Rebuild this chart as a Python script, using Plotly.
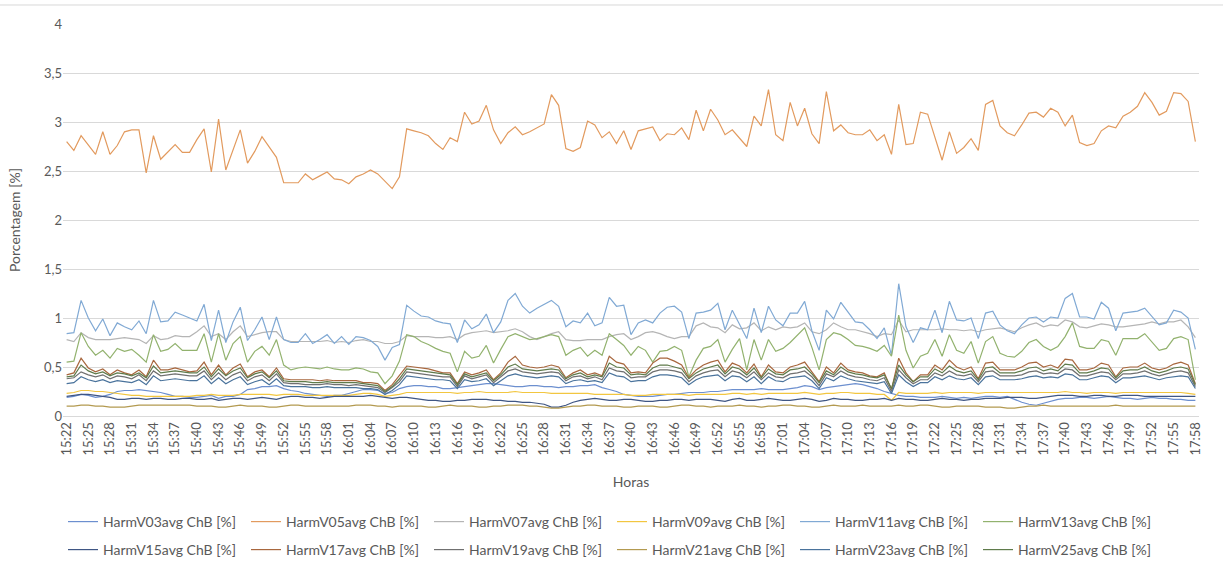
import plotly.graph_objects as go

# Minute-by-minute timestamps from 15:22 to 17:58
START_MIN = 15 * 60 + 22
N_POINTS = 157
times = [f"{(START_MIN + i) // 60}:{(START_MIN + i) % 60:02d}" for i in range(N_POINTS)]
tick_times = times[::3]

y_tickvals = [0, 0.5, 1, 1.5, 2, 2.5, 3, 3.5, 4]
y_ticktext = ["0", "0,5", "1", "1,5", "2", "2,5", "3", "3,5", "4"]

harm_v03 = [
    0.19, 0.20, 0.22, 0.21, 0.19, 0.20, 0.22, 0.25, 0.26, 0.26,
    0.27, 0.26, 0.25, 0.24, 0.22, 0.20, 0.20, 0.19, 0.19, 0.20,
    0.21, 0.18, 0.20, 0.20, 0.22, 0.27, 0.28, 0.30, 0.30, 0.31,
    0.28, 0.26, 0.25, 0.23, 0.22, 0.21, 0.20, 0.21, 0.21, 0.23,
    0.25, 0.27, 0.27, 0.26, 0.23, 0.24, 0.28, 0.30, 0.31, 0.31,
    0.30, 0.30, 0.28, 0.28, 0.29, 0.30, 0.31, 0.32, 0.33, 0.33,
    0.32, 0.31, 0.30, 0.30, 0.31, 0.31, 0.30, 0.30, 0.29, 0.30,
    0.30, 0.31, 0.31, 0.32, 0.29, 0.27, 0.25, 0.22, 0.21, 0.20,
    0.20, 0.20, 0.21, 0.22, 0.22, 0.23, 0.24, 0.24, 0.24, 0.25,
    0.25, 0.26, 0.27, 0.27, 0.27, 0.27, 0.28, 0.27, 0.27, 0.27,
    0.28, 0.29, 0.31, 0.30, 0.27, 0.29, 0.30, 0.31, 0.32, 0.33,
    0.32, 0.30, 0.28, 0.25, 0.23, 0.21, 0.20, 0.20, 0.19, 0.19,
    0.19, 0.20, 0.19, 0.18, 0.19, 0.18, 0.19, 0.20, 0.20, 0.19,
    0.20, 0.17, 0.14, 0.12, 0.11, 0.13, 0.15, 0.17, 0.18, 0.18,
    0.19, 0.19, 0.18, 0.19, 0.20, 0.19, 0.18, 0.18, 0.17, 0.18,
    0.19, 0.18, 0.18, 0.17, 0.17, 0.16, 0.16,
]

harm_v05 = [
    2.80, 2.71, 2.86, 2.77, 2.67, 2.90, 2.67, 2.76, 2.90, 2.92,
    2.92, 2.48, 2.86, 2.62, 2.70, 2.77, 2.69, 2.69, 2.82, 2.93,
    2.49, 3.03, 2.51, 2.72, 2.92, 2.58, 2.70, 2.85, 2.74, 2.64,
    2.38, 2.38, 2.38, 2.47, 2.41, 2.45, 2.49, 2.42, 2.41, 2.37,
    2.44, 2.47, 2.51, 2.47, 2.40, 2.32, 2.44, 2.93, 2.91, 2.89,
    2.86, 2.78, 2.72, 2.84, 2.80, 3.10, 2.98, 3.01, 3.17, 2.92,
    2.78, 2.89, 2.95, 2.87, 2.90, 2.94, 2.98, 3.28, 3.17, 2.73,
    2.70, 2.74, 3.01, 2.97, 2.84, 2.90, 2.78, 2.91, 2.72, 2.91,
    2.93, 2.95, 2.81, 2.88, 2.87, 2.94, 2.82, 3.12, 2.91, 3.13,
    3.02, 2.87, 2.92, 2.84, 2.75, 3.06, 2.96, 3.33, 2.87, 2.81,
    3.20, 2.96, 3.14, 2.88, 2.78, 3.31, 2.91, 2.97, 2.89, 2.87,
    2.87, 2.92, 2.81, 2.87, 2.67, 3.18, 2.77, 2.78, 3.10, 3.08,
    2.84, 2.61, 2.90, 2.68, 2.74, 2.83, 2.71, 3.18, 3.22, 2.96,
    2.89, 2.86, 2.97, 3.09, 3.10, 3.05, 3.14, 3.10, 2.96, 3.07,
    2.79, 2.76, 2.78, 2.91, 2.96, 2.94, 3.06, 3.10, 3.16, 3.30,
    3.20, 3.07, 3.11, 3.30, 3.29, 3.21, 2.80,
]

harm_v07 = [
    0.78, 0.76, 0.85, 0.80, 0.78, 0.78, 0.78, 0.79, 0.80, 0.79,
    0.78, 0.74, 0.82, 0.78, 0.79, 0.82, 0.81, 0.81, 0.86, 0.92,
    0.81, 0.84, 0.78, 0.86, 0.92, 0.81, 0.83, 0.85, 0.86, 0.86,
    0.78, 0.76, 0.76, 0.76, 0.76, 0.76, 0.77, 0.75, 0.76, 0.75,
    0.77, 0.78, 0.76, 0.76, 0.74, 0.74, 0.76, 0.82, 0.81, 0.81,
    0.81, 0.80, 0.80, 0.81, 0.78, 0.83, 0.85, 0.86, 0.87, 0.85,
    0.86, 0.87, 0.89, 0.86, 0.81, 0.78, 0.81, 0.84, 0.86, 0.78,
    0.77, 0.77, 0.78, 0.78, 0.78, 0.81, 0.83, 0.84, 0.78, 0.81,
    0.85, 0.86, 0.84, 0.81, 0.79, 0.81, 0.81, 0.92, 0.95, 0.91,
    0.90, 0.85, 0.93, 0.89, 0.90, 0.95, 0.87, 0.91, 0.88, 0.91,
    0.90, 0.91, 0.95, 0.86, 0.84, 0.88, 0.95, 0.91, 0.88, 0.88,
    0.86, 0.84, 0.81, 0.84, 0.83, 0.98, 0.86, 0.88, 0.88, 0.88,
    0.88, 0.89, 0.88, 0.88, 0.87, 0.88, 0.86, 0.88, 0.89, 0.90,
    0.88, 0.86, 0.90, 0.93, 0.95, 0.91, 0.93, 0.92, 0.98, 0.96,
    0.91, 0.90, 0.92, 0.94, 0.93, 0.91, 0.91, 0.92, 0.93, 0.94,
    0.96, 0.94, 0.96, 0.96, 0.98, 0.91, 0.80,
]

harm_v09 = [
    0.23, 0.24, 0.26, 0.26, 0.25, 0.25, 0.24, 0.23, 0.22, 0.21,
    0.21, 0.20, 0.20, 0.20, 0.20, 0.20, 0.20, 0.20, 0.21, 0.21,
    0.22, 0.21, 0.21, 0.21, 0.22, 0.22, 0.22, 0.22, 0.22, 0.21,
    0.22, 0.22, 0.22, 0.21, 0.21, 0.21, 0.21, 0.21, 0.21, 0.21,
    0.22, 0.23, 0.23, 0.22, 0.20, 0.21, 0.22, 0.24, 0.24, 0.24,
    0.24, 0.24, 0.24, 0.24, 0.23, 0.24, 0.24, 0.25, 0.24, 0.24,
    0.24, 0.24, 0.25, 0.24, 0.24, 0.24, 0.24, 0.23, 0.23, 0.23,
    0.23, 0.23, 0.23, 0.22, 0.22, 0.22, 0.22, 0.22, 0.21, 0.21,
    0.21, 0.22, 0.22, 0.22, 0.22, 0.22, 0.21, 0.22, 0.22, 0.22,
    0.22, 0.22, 0.23, 0.23, 0.22, 0.23, 0.22, 0.23, 0.23, 0.23,
    0.23, 0.23, 0.24, 0.23, 0.22, 0.23, 0.23, 0.24, 0.24, 0.23,
    0.23, 0.23, 0.22, 0.22, 0.16, 0.24, 0.23, 0.23, 0.23, 0.23,
    0.24, 0.23, 0.24, 0.24, 0.24, 0.24, 0.23, 0.24, 0.24, 0.24,
    0.24, 0.24, 0.24, 0.24, 0.24, 0.24, 0.24, 0.24, 0.25, 0.24,
    0.24, 0.23, 0.24, 0.24, 0.24, 0.23, 0.24, 0.24, 0.24, 0.24,
    0.24, 0.24, 0.24, 0.24, 0.24, 0.23, 0.22,
]

harm_v11 = [
    0.84, 0.85, 1.18, 1.00, 0.87, 0.99, 0.82, 0.95, 0.91, 0.88,
    0.97, 0.84, 1.18, 0.96, 0.97, 1.06, 1.03, 1.00, 0.97, 1.14,
    0.77, 1.08, 0.75, 0.96, 1.11, 0.77, 0.88, 1.01, 0.78, 1.01,
    0.78, 0.75, 0.75, 0.84, 0.74, 0.78, 0.83, 0.74, 0.81, 0.73,
    0.81, 0.80, 0.77, 0.71, 0.57, 0.70, 0.73, 1.13, 1.07, 1.02,
    1.01, 0.97, 0.95, 0.94, 0.75, 0.98, 0.89, 0.93, 1.04, 0.85,
    0.96, 1.18, 1.25, 1.12, 1.05, 1.10, 1.14, 1.18, 1.12, 0.91,
    0.97, 0.95, 1.05, 0.92, 0.95, 1.21, 1.12, 1.13, 0.83, 0.95,
    0.98, 0.95, 1.05, 1.11, 1.12, 1.06, 0.79, 1.05, 1.06, 1.08,
    1.15, 0.88, 1.08, 0.93, 0.79, 1.10, 0.85, 1.12, 0.98, 0.92,
    1.05, 1.05, 1.17, 0.87, 0.67, 1.08, 0.99, 1.16, 1.06, 0.96,
    0.95, 0.88, 0.79, 0.90, 0.62, 1.35, 0.91, 0.75, 0.90, 0.88,
    1.08, 0.85, 1.17, 0.98, 0.97, 1.00, 0.79, 1.05, 1.07, 0.93,
    0.87, 0.84, 0.93, 1.00, 1.01, 0.96, 1.01, 1.00, 1.20, 1.25,
    1.01, 1.01, 0.99, 1.16, 1.10, 0.87, 1.05, 1.06, 1.07, 1.10,
    1.01, 0.93, 0.95, 1.08, 1.06, 1.00, 0.68,
]

harm_v13 = [
    0.55, 0.56, 0.85, 0.71, 0.62, 0.67, 0.59, 0.69, 0.66, 0.68,
    0.62, 0.55, 0.83, 0.66, 0.68, 0.74, 0.67, 0.67, 0.67, 0.84,
    0.55, 0.84, 0.57, 0.74, 0.81, 0.55, 0.66, 0.71, 0.62, 0.78,
    0.52, 0.47, 0.49, 0.50, 0.49, 0.48, 0.50, 0.48, 0.47, 0.47,
    0.49, 0.48, 0.45, 0.44, 0.33, 0.41, 0.56, 0.83, 0.81, 0.76,
    0.73, 0.69, 0.66, 0.64, 0.45, 0.66, 0.59, 0.61, 0.72, 0.54,
    0.68, 0.81, 0.84, 0.81, 0.78, 0.79, 0.81, 0.83, 0.81, 0.62,
    0.67, 0.70, 0.61, 0.67, 0.62, 0.84, 0.78, 0.72, 0.62, 0.71,
    0.67, 0.55, 0.66, 0.67, 0.71, 0.67, 0.40, 0.57, 0.69, 0.71,
    0.78, 0.55, 0.68, 0.79, 0.47, 0.78, 0.57, 0.78, 0.66, 0.69,
    0.75, 0.82, 0.90, 0.70, 0.47, 0.78, 0.85, 0.83, 0.78, 0.72,
    0.71, 0.69, 0.66, 0.72, 0.61, 1.03, 0.67, 0.49, 0.61, 0.64,
    0.78, 0.61, 0.83, 0.67, 0.64, 0.76, 0.54, 0.76, 0.81, 0.64,
    0.61, 0.60, 0.66, 0.75, 0.78, 0.71, 0.67, 0.71, 0.81, 0.95,
    0.71, 0.69, 0.69, 0.78, 0.76, 0.62, 0.79, 0.79, 0.79, 0.84,
    0.76, 0.67, 0.69, 0.79, 0.81, 0.78, 0.37,
]

harm_v15 = [
    0.20, 0.21, 0.22, 0.22, 0.21, 0.20, 0.19, 0.17, 0.17, 0.18,
    0.18, 0.17, 0.18, 0.18, 0.17, 0.17, 0.18, 0.18, 0.17, 0.17,
    0.18, 0.16, 0.17, 0.18, 0.18, 0.17, 0.18, 0.19, 0.18, 0.17,
    0.19, 0.20, 0.20, 0.19, 0.19, 0.18, 0.19, 0.20, 0.20, 0.20,
    0.20, 0.20, 0.21, 0.20, 0.19, 0.18, 0.19, 0.19, 0.18, 0.17,
    0.16, 0.16, 0.15, 0.15, 0.16, 0.16, 0.17, 0.17, 0.17, 0.16,
    0.16, 0.15, 0.15, 0.14, 0.14, 0.13, 0.12, 0.09, 0.09, 0.11,
    0.14, 0.16, 0.17, 0.18, 0.17, 0.16, 0.16, 0.17, 0.17, 0.16,
    0.15, 0.15, 0.16, 0.16, 0.17, 0.17, 0.16, 0.17, 0.17, 0.17,
    0.16, 0.15, 0.17, 0.18, 0.16, 0.16, 0.17, 0.18, 0.17, 0.16,
    0.16, 0.17, 0.18, 0.17, 0.15, 0.16, 0.18, 0.17, 0.17, 0.16,
    0.16, 0.17, 0.17, 0.18, 0.16, 0.18, 0.17, 0.17, 0.16, 0.16,
    0.17, 0.18, 0.17, 0.17, 0.16, 0.17, 0.17, 0.18, 0.18, 0.18,
    0.19, 0.19, 0.19, 0.18, 0.18, 0.19, 0.20, 0.21, 0.21, 0.21,
    0.20, 0.20, 0.21, 0.21, 0.20, 0.20, 0.21, 0.21, 0.21, 0.20,
    0.20, 0.20, 0.20, 0.20, 0.20, 0.20, 0.20,
]

harm_v17 = [
    0.42, 0.44, 0.59, 0.49, 0.45, 0.48, 0.42, 0.47, 0.44, 0.42,
    0.47, 0.40, 0.57, 0.47, 0.47, 0.49, 0.47, 0.45, 0.46, 0.55,
    0.42, 0.52, 0.42, 0.49, 0.53, 0.40, 0.45, 0.47, 0.40, 0.49,
    0.38, 0.37, 0.37, 0.37, 0.37, 0.36, 0.37, 0.36, 0.36, 0.36,
    0.36, 0.34, 0.34, 0.33, 0.26, 0.32, 0.41, 0.51, 0.50, 0.49,
    0.48, 0.46, 0.44, 0.44, 0.33, 0.45, 0.42, 0.44, 0.47, 0.37,
    0.44, 0.55, 0.61, 0.52, 0.50, 0.49, 0.50, 0.52, 0.50, 0.39,
    0.44, 0.47, 0.42, 0.44, 0.41, 0.61, 0.55, 0.53, 0.44, 0.45,
    0.44, 0.54, 0.59, 0.59, 0.56, 0.52, 0.39, 0.47, 0.52, 0.55,
    0.57, 0.45, 0.54, 0.51, 0.44, 0.53, 0.40, 0.52, 0.45, 0.44,
    0.50, 0.52, 0.55, 0.45, 0.35, 0.50, 0.44, 0.54, 0.47, 0.45,
    0.44, 0.41, 0.40, 0.44, 0.27, 0.59, 0.44, 0.35, 0.42, 0.42,
    0.52, 0.47, 0.57, 0.50, 0.47, 0.50, 0.38, 0.54, 0.55, 0.47,
    0.47, 0.47, 0.50, 0.54, 0.55, 0.50, 0.52, 0.49, 0.58, 0.57,
    0.47, 0.47, 0.49, 0.54, 0.52, 0.40, 0.49, 0.50, 0.50, 0.54,
    0.49, 0.47, 0.49, 0.53, 0.55, 0.52, 0.33,
]

harm_v19 = [
    0.38, 0.39, 0.45, 0.42, 0.40, 0.42, 0.38, 0.41, 0.40, 0.38,
    0.42, 0.36, 0.46, 0.41, 0.42, 0.43, 0.42, 0.41, 0.41, 0.46,
    0.37, 0.44, 0.37, 0.42, 0.45, 0.36, 0.40, 0.42, 0.36, 0.43,
    0.34, 0.33, 0.33, 0.32, 0.32, 0.32, 0.33, 0.32, 0.32, 0.31,
    0.32, 0.31, 0.30, 0.29, 0.24, 0.29, 0.35, 0.45, 0.44, 0.43,
    0.42, 0.41, 0.40, 0.40, 0.30, 0.41, 0.38, 0.40, 0.42, 0.34,
    0.40, 0.46, 0.48, 0.45, 0.44, 0.43, 0.44, 0.45, 0.44, 0.36,
    0.40, 0.41, 0.38, 0.40, 0.37, 0.49, 0.46, 0.45, 0.39, 0.40,
    0.40, 0.45, 0.47, 0.47, 0.46, 0.44, 0.35, 0.41, 0.44, 0.46,
    0.47, 0.40, 0.46, 0.44, 0.39, 0.45, 0.37, 0.44, 0.40, 0.39,
    0.43, 0.44, 0.46, 0.40, 0.31, 0.43, 0.40, 0.46, 0.42, 0.40,
    0.39, 0.37, 0.36, 0.39, 0.25, 0.47, 0.39, 0.33, 0.37, 0.37,
    0.44, 0.41, 0.46, 0.42, 0.41, 0.43, 0.35, 0.45, 0.46, 0.41,
    0.41, 0.41, 0.42, 0.45, 0.46, 0.43, 0.44, 0.43, 0.48, 0.47,
    0.41, 0.41, 0.43, 0.45, 0.44, 0.37, 0.43, 0.43, 0.44, 0.46,
    0.43, 0.41, 0.43, 0.45, 0.46, 0.44, 0.30,
]

harm_v21 = [
    0.10, 0.10, 0.11, 0.11, 0.10, 0.10, 0.09, 0.09, 0.09, 0.10,
    0.11, 0.11, 0.11, 0.11, 0.11, 0.11, 0.11, 0.11, 0.10, 0.10,
    0.10, 0.09, 0.09, 0.10, 0.11, 0.10, 0.10, 0.10, 0.09, 0.09,
    0.10, 0.11, 0.11, 0.10, 0.10, 0.10, 0.10, 0.10, 0.10, 0.10,
    0.11, 0.11, 0.11, 0.10, 0.10, 0.09, 0.10, 0.10, 0.10, 0.10,
    0.09, 0.09, 0.10, 0.11, 0.10, 0.10, 0.10, 0.09, 0.09, 0.10,
    0.10, 0.11, 0.11, 0.11, 0.10, 0.10, 0.09, 0.08, 0.08, 0.09,
    0.10, 0.10, 0.11, 0.11, 0.10, 0.10, 0.10, 0.09, 0.09, 0.10,
    0.10, 0.10, 0.09, 0.09, 0.10, 0.11, 0.11, 0.10, 0.10, 0.09,
    0.10, 0.10, 0.10, 0.11, 0.10, 0.10, 0.09, 0.10, 0.10, 0.11,
    0.11, 0.10, 0.10, 0.09, 0.09, 0.10, 0.11, 0.10, 0.10, 0.10,
    0.11, 0.10, 0.10, 0.10, 0.10, 0.11, 0.10, 0.10, 0.11, 0.11,
    0.10, 0.09, 0.09, 0.10, 0.10, 0.10, 0.10, 0.09, 0.09, 0.09,
    0.08, 0.08, 0.09, 0.10, 0.10, 0.11, 0.10, 0.10, 0.10, 0.10,
    0.10, 0.10, 0.10, 0.10, 0.10, 0.11, 0.10, 0.10, 0.10, 0.10,
    0.10, 0.10, 0.10, 0.10, 0.10, 0.10, 0.10,
]

harm_v23 = [
    0.33, 0.34, 0.40, 0.37, 0.35, 0.37, 0.34, 0.36, 0.35, 0.34,
    0.37, 0.32, 0.41, 0.36, 0.37, 0.38, 0.37, 0.36, 0.36, 0.41,
    0.33, 0.39, 0.33, 0.37, 0.40, 0.32, 0.35, 0.37, 0.32, 0.38,
    0.31, 0.30, 0.30, 0.30, 0.29, 0.29, 0.30, 0.29, 0.29, 0.29,
    0.29, 0.28, 0.28, 0.27, 0.22, 0.26, 0.32, 0.41, 0.40, 0.39,
    0.38, 0.37, 0.37, 0.36, 0.28, 0.37, 0.35, 0.36, 0.38, 0.31,
    0.36, 0.41, 0.43, 0.41, 0.40, 0.39, 0.40, 0.41, 0.40, 0.33,
    0.36, 0.37, 0.35, 0.36, 0.34, 0.44, 0.41, 0.40, 0.35, 0.36,
    0.36, 0.40, 0.42, 0.42, 0.41, 0.39, 0.32, 0.37, 0.40, 0.41,
    0.42, 0.36, 0.41, 0.40, 0.35, 0.40, 0.33, 0.40, 0.36, 0.35,
    0.39, 0.40, 0.41, 0.36, 0.28, 0.39, 0.36, 0.41, 0.38, 0.36,
    0.35, 0.34, 0.33, 0.35, 0.23, 0.42, 0.35, 0.30, 0.34, 0.34,
    0.40, 0.37, 0.41, 0.38, 0.37, 0.39, 0.32, 0.40, 0.41, 0.37,
    0.37, 0.37, 0.38, 0.40, 0.41, 0.39, 0.40, 0.39, 0.43, 0.42,
    0.37, 0.37, 0.39, 0.41, 0.40, 0.34, 0.39, 0.39, 0.40, 0.41,
    0.39, 0.37, 0.39, 0.40, 0.41, 0.40, 0.28,
]

harm_v25 = [
    0.40, 0.41, 0.52, 0.46, 0.43, 0.45, 0.41, 0.44, 0.43, 0.41,
    0.44, 0.39, 0.51, 0.44, 0.45, 0.46, 0.45, 0.44, 0.44, 0.50,
    0.40, 0.48, 0.41, 0.46, 0.49, 0.39, 0.43, 0.45, 0.39, 0.46,
    0.36, 0.35, 0.35, 0.35, 0.34, 0.34, 0.35, 0.34, 0.34, 0.34,
    0.34, 0.33, 0.32, 0.31, 0.25, 0.30, 0.38, 0.48, 0.47, 0.46,
    0.45, 0.44, 0.43, 0.42, 0.32, 0.43, 0.40, 0.42, 0.44, 0.36,
    0.42, 0.50, 0.53, 0.48, 0.47, 0.46, 0.47, 0.48, 0.47, 0.38,
    0.42, 0.44, 0.40, 0.42, 0.40, 0.54, 0.50, 0.49, 0.42, 0.43,
    0.42, 0.49, 0.52, 0.52, 0.50, 0.48, 0.38, 0.44, 0.48, 0.50,
    0.52, 0.43, 0.50, 0.48, 0.42, 0.49, 0.39, 0.48, 0.43, 0.42,
    0.47, 0.48, 0.50, 0.43, 0.34, 0.46, 0.42, 0.50, 0.45, 0.43,
    0.42, 0.40, 0.39, 0.42, 0.28, 0.52, 0.42, 0.35, 0.40, 0.40,
    0.48, 0.44, 0.51, 0.46, 0.44, 0.46, 0.37, 0.49, 0.50, 0.44,
    0.44, 0.44, 0.46, 0.49, 0.50, 0.46, 0.48, 0.46, 0.53, 0.52,
    0.44, 0.44, 0.46, 0.49, 0.48, 0.39, 0.46, 0.47, 0.47, 0.50,
    0.46, 0.44, 0.46, 0.49, 0.50, 0.48, 0.32,
]

series_names = [
    "HarmV03avg ChB [%]", "HarmV05avg ChB [%]", "HarmV07avg ChB [%]",
    "HarmV09avg ChB [%]", "HarmV11avg ChB [%]", "HarmV13avg ChB [%]",
    "HarmV15avg ChB [%]", "HarmV17avg ChB [%]", "HarmV19avg ChB [%]",
    "HarmV21avg ChB [%]", "HarmV23avg ChB [%]", "HarmV25avg ChB [%]",
]
series_values = [
    harm_v03, harm_v05, harm_v07, harm_v09, harm_v11, harm_v13,
    harm_v15, harm_v17, harm_v19, harm_v21, harm_v23, harm_v25,
]
series_colors = [
    "#6C8FCF", "#E29A5E", "#B5B5B5", "#F2C640", "#80A9D4", "#92B26E",
    "#3F5684", "#A8673E", "#707070", "#B39A50", "#4A739C", "#5F7B4B",
]

for vals in series_values:
    assert len(vals) == N_POINTS

TEXT = "#595959"
GRID = "#D9D9D9"
FONT = "Lato, 'Open Sans', sans-serif"

fig = go.Figure()
for k, (name, vals, color) in enumerate(zip(series_names, series_values, series_colors)):
    fig.add_trace(go.Scatter(
        x=times, y=vals, name=name, mode="lines",
        line=dict(color=color, width=1.2),
        legend="legend" if k < 6 else "legend2",
    ))

legend_common = dict(
    orientation="h", xanchor="left", yanchor="middle",
    xref="container", yref="container",
    font=dict(family=FONT, size=14, color=TEXT),
    entrywidth=138, entrywidthmode="pixels",
    bgcolor="rgba(0,0,0,0)", itemclick=False, itemdoubleclick=False,
    traceorder="normal",
)

fig.update_layout(
    width=1223, height=568,
    margin=dict(l=63, r=24, t=24, b=152, autoexpand=False),
    paper_bgcolor="white", plot_bgcolor="white",
    font=dict(family=FONT, size=13, color=TEXT),
    showlegend=True,
    legend=dict(x=63 / 1223, y=1 - 522 / 568, **legend_common),
    legend2=dict(x=63 / 1223, y=1 - 550 / 568, **legend_common),
    xaxis=dict(
        type="category",
        categoryorder="array", categoryarray=times,
        range=[-0.5, N_POINTS - 0.5],
        tickmode="array", tickvals=tick_times, ticktext=tick_times,
        tickangle=-90, ticks="", showgrid=False,
        showline=True, linecolor=GRID, linewidth=1,
        tickfont=dict(family=FONT, size=13, color=TEXT),
        title=dict(text="Horas", font=dict(family=FONT, size=14, color=TEXT), standoff=22),
        automargin=False,
    ),
    yaxis=dict(
        range=[0, 4],
        tickmode="array", tickvals=y_tickvals, ticktext=y_ticktext,
        showgrid=True, gridcolor=GRID, gridwidth=1,
        zeroline=False, showline=False, ticks="",
        tickfont=dict(family=FONT, size=13, color=TEXT),
        title=dict(text="Porcentagem [%]", font=dict(family=FONT, size=14, color=TEXT), standoff=20),
        automargin=False,
    ),
    shapes=[dict(
        type="line", xref="paper", yref="paper",
        x0=-0.06, x1=1.03, y0=1.0485, y1=1.0485,
        line=dict(color=GRID, width=1),
    )],
)

fig.write_html("out.html")
